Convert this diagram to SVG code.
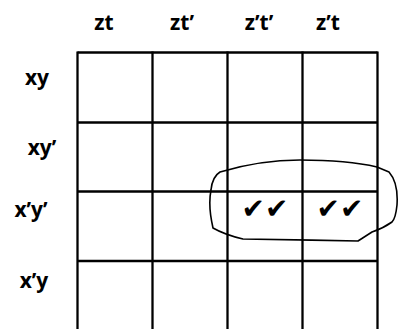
<svg xmlns="http://www.w3.org/2000/svg" width="399" height="329" viewBox="0 0 399 329">
<style>
.lbl{font-family:"Open Sans","Liberation Sans",sans-serif;font-weight:bold;font-size:21px;fill:#000}
.grid{stroke:#000;stroke-width:2.3;fill:none}
.chk{font-family:"DejaVu Sans",sans-serif;font-size:28px;fill:#000}
.loop{stroke:#000;stroke-width:1.6;fill:none;stroke-linejoin:round}
</style>
<rect width="399" height="329" fill="#fff"/>
<g id="headers">
<text class="lbl" x="104" y="30" text-anchor="middle">zt</text>
<text class="lbl" x="182" y="30" text-anchor="middle">zt’</text>
<text class="lbl" x="259" y="30" text-anchor="middle">z’t’</text>
<text class="lbl" x="328" y="30" text-anchor="middle">z’t</text>
</g>
<g id="rows">
<text class="lbl" x="37" y="85" text-anchor="middle">xy</text>
<text class="lbl" x="42" y="155" text-anchor="middle">xy’</text>
<text class="lbl" x="31" y="217" text-anchor="middle">x’y’</text>
<text class="lbl" x="34" y="288" text-anchor="middle">x’y</text>
</g>
<g id="grid" class="grid">
<line x1="77.5" y1="52.5" x2="377.5" y2="52.5"/>
<line x1="77.5" y1="122.5" x2="377.5" y2="122.5"/>
<line x1="77.5" y1="191.5" x2="377.5" y2="191.5"/>
<line x1="77.5" y1="261" x2="377.5" y2="261"/>
<line x1="77.5" y1="51.5" x2="77.5" y2="329"/>
<line x1="152.5" y1="51.5" x2="152.5" y2="329"/>
<line x1="227.5" y1="51.5" x2="227.5" y2="329"/>
<line x1="302.5" y1="51.5" x2="302.5" y2="329"/>
<line x1="377.5" y1="51.5" x2="377.5" y2="329"/>
</g>
<g id="checks">
<text class="chk" x="265" y="218" text-anchor="middle">✔✔</text>
<text class="chk" x="340" y="218" text-anchor="middle">✔✔</text>
</g>
<g id="connectors">
<path class="loop" d="M220,172 C250,163 280,160 300,160 C330,160 360,163 377,167 L389,172 C396,180 398,190 397,205 C396,215 395,219 392,222 C385,227 378,230 372,232 L358,241 C320,240 280,240 243,239 C230,236 220,232 213,228 C210,215 209,200 211,190 C212,180 215,175 220,172 Z"/>
</g>
</svg>
